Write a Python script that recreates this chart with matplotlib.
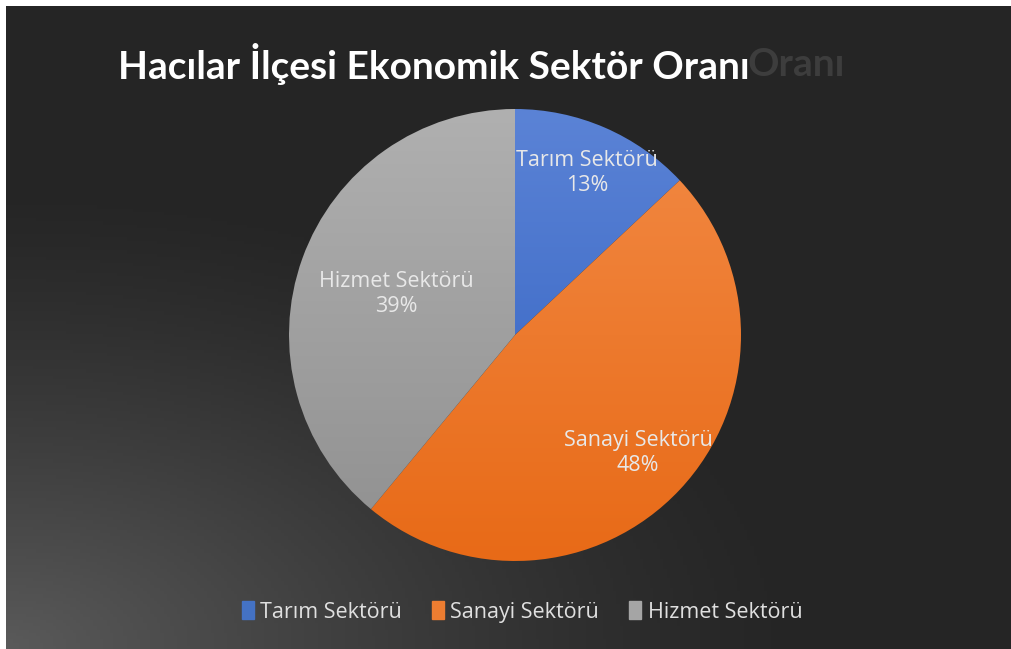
import numpy as np
import matplotlib
matplotlib.use("Agg")
import matplotlib.pyplot as plt
from matplotlib.colors import LinearSegmentedColormap

categories = ["Tarım Sektörü", "Sanayi Sektörü", "Hizmet Sektörü"]
values = [13, 48, 39]
title = "Hacılar İlçesi Ekonomik Sektör Oranı"
ghost = "Oranı"

top_colors = ["#5b83d6", "#f28a45", "#b0b0b0"]
bot_colors = ["#2f5fbf", "#e86a17", "#8f8f8f"]
legend_colors = ["#4472c4", "#ed7d31", "#a5a5a5"]

W, H = 1012, 649
fig = plt.figure(figsize=(W / 100, H / 100), dpi=100)
fig.patch.set_facecolor("white")

# background panel with gradient (lighter bottom-left)
bg = fig.add_axes([6 / W, 0, 1 - 6 / W, 1 - 6 / H])
bg.set_axis_off()
ny, nx = 200, 300
yy, xx = np.mgrid[0:1:ny * 1j, 0:1:nx * 1j]
d = np.sqrt((xx * 1.0) ** 2 + ((1 - yy) * 1.1) ** 2)
t = np.clip(1 - d / 0.8, 0, 1) ** 1.3
base = 0x25 / 255
light = 0x5a / 255
img = base + (light - base) * t
bg.imshow(np.dstack([img, img, img]), extent=[0, 1, 0, 1], aspect="auto", origin="upper")
bg.set_xlim(0, 1)
bg.set_ylim(0, 1)

# title + faint reflection of its last word
fig.text(845 / W, 1 - 64 / H, ghost, color="#3d3d3d", fontsize=28,
         fontweight="bold", family="Lato", ha="right", va="center")
fig.text(118 / W, 1 - 64 / H, title, color="white", fontsize=28,
         fontweight="bold", family="Lato", ha="left", va="center")

# pie
cx, cy, r = 515, 335, 226
ax = fig.add_axes([(cx - r) / W, 1 - (cy + r) / H, 2 * r / W, 2 * r / H])
wedges, texts = ax.pie(values, startangle=90, counterclock=False, radius=1,
                       colors=legend_colors, wedgeprops=dict(linewidth=0))
ax.set_xlim(-1, 1)
ax.set_ylim(-1, 1)
ax.set_aspect("equal")
grad = np.linspace(0, 1, 256).reshape(-1, 1)
for w, c0, c1 in zip(wedges, top_colors, bot_colors):
    cmap = LinearSegmentedColormap.from_list("g", [c0, c1])
    im = ax.imshow(grad, extent=[-1, 1, -1, 1], origin="upper", cmap=cmap,
                   aspect="auto", zorder=2)
    im.set_clip_path(w)
    w.set_alpha(0)

label_pos = [(587, 173), (638, 453), (396, 294)]
for (lx, ly), cat, v in zip(label_pos, categories, values):
    x = (lx - cx) / r
    y = -(ly - cy) / r
    ax.text(x, y, f"{cat}\n{v}%", color="#e8e8e8", fontsize=15.5, family="Open Sans",
            ha="center", va="center", linespacing=1.3, zorder=5)

# legend
handles = [plt.Rectangle((0, 0), 1, 1, color=c) for c in legend_colors]
leg = fig.legend(handles, categories, loc="center", bbox_to_anchor=(522 / W, 1 - 612 / H),
                 ncol=3, frameon=False, handlelength=0.55, handleheight=0.9,
                 handletextpad=0.3, columnspacing=1.4,
                 prop=dict(family="Open Sans", size=15.5))
for tx in leg.get_texts():
    tx.set_color("#e0e0e0")

fig.savefig("out.png", dpi=100, facecolor=fig.get_facecolor())
